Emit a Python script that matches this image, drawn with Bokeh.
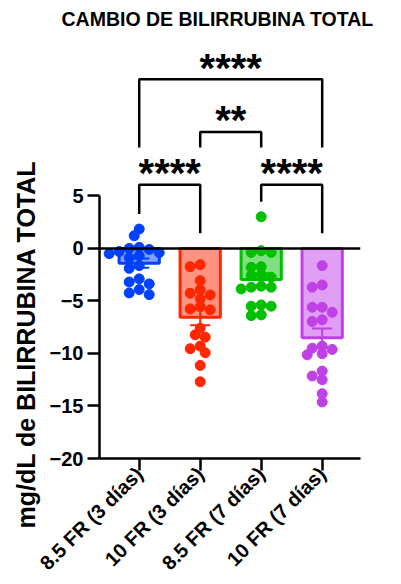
import math
import numpy as np
from bokeh.plotting import figure
from bokeh.models import Range1d, FixedTicker, Span, Title
from bokeh.core.properties import value
from bokeh.embed import file_html
from bokeh.resources import INLINE

# ---------------- data ----------------
groups = ["8.5 FR (3 días)", "10 FR (3 días)", "8.5 FR (7 días)", "10 FR (7 días)"]
line_colors = ["#0040FF", "#FF2600", "#00C000", "#C040E8"]
fill_colors = ["#809FFF", "#FF9380", "#80E080", "#E09FF4"]

vals_85_3d = [1.84, 1.2, 0.1, 0.0, -0.1, -0.3, -0.5, -0.7, -0.9, -0.4,
              -1.9, -1.64, -2.9, -3.38, -3.2, -3.92, -4.24, -4.4]
vals_10_3d = [-1.55, -1.74, -3.07, -3.95, -4.43, -4.27, -4.8, -5.54, -5.85,
              -5.76, -7.6, -8.45, -8.23, -9.3, -9.55, -9.93, -11.14, -12.7]
vals_85_7d = [3.01, -0.38, -0.38, -0.22, -1.74, -1.8, -2.5, -2.56, -2.75,
              -3.86, -3.7, -3.7, -3.6, -5.38, -5.5, -5.5, -6.33, -6.4]
vals_10_7d = [-1.64, -3.48, -3.7, -5.6, -5.6, -6.08, -6.96, -6.8, -9.62,
              -9.3, -10.13, -10.03, -9.5, -12.15, -11.68, -12.5, -13.83, -14.62]
series = [vals_85_3d, vals_10_3d, vals_85_7d, vals_10_7d]

comparisons = [(0, 1, "****"), (2, 3, "****"), (1, 2, "**"), (0, 3, "****")]
y_ticks = [-20, -15, -10, -5, 0, 5]
title_text = "CAMBIO DE BILIRRUBINA TOTAL"
y_label = "mg/dL de BILIRRUBINA TOTAL"

# ---------------- layout ----------------
W, H = 401, 584
MB_L, MB_R, MB_T, MB_B = 99, 41, 0, 126
FRAME_TOP = 33.0          # expected height of the title panel
PX_Y = 10.53              # pixels per mg/dL
x0, x1 = -0.651, 3.628
y0 = -20.0
y1 = y0 + (H - MB_B - FRAME_TOP) / PX_Y
px_x = (W - MB_L - MB_R) / (x1 - x0)
px_y = PX_Y

FONT = "Liberation Sans"

p = figure(width=W, height=H, output_backend="svg", toolbar_location=None,
           x_range=Range1d(x0, x1), y_range=Range1d(y0, y1),
           min_border_left=MB_L, min_border_right=MB_R,
           min_border_top=MB_T, min_border_bottom=MB_B)
p.outline_line_color = None
p.grid.visible = False
p.background_fill_color = "white"
p.border_fill_color = "white"

p.title = Title(text=title_text, align="left", offset=61 - MB_L,
                text_font=FONT, text_font_style="bold", text_font_size="19.5px",
                text_color="black")
p.add_layout(Title(text=y_label, align="left", offset=458 - 528, standoff=10,
                   vertical_align="top",
                   text_font=FONT, text_font_style="bold", text_font_size="25px",
                   text_color="black"), "left")

# axes
p.xaxis.ticker = FixedTicker(ticks=list(range(len(groups))))
p.xaxis.major_label_overrides = {i: g for i, g in enumerate(groups)}
p.xaxis.major_label_orientation = math.pi / 4
p.yaxis.ticker = FixedTicker(ticks=y_ticks)
p.yaxis.bounds = (min(y_ticks), max(y_ticks))
for ax in (p.xaxis, p.yaxis):
    ax.axis_line_width = 2.5
    ax.axis_line_color = "black"
    ax.major_tick_line_width = 2.5
    ax.major_tick_line_color = "black"
    ax.major_tick_out = 12
    ax.major_tick_in = 0
    ax.minor_tick_line_color = None
    ax.major_label_text_font = FONT
    ax.major_label_text_font_style = "bold"
    ax.major_label_text_font_size = "20px"
    ax.major_label_text_color = "black"
p.yaxis.major_label_standoff = 4
p.xaxis.major_label_standoff = 0


def swarm(vals, d=7.5, step=5.0):
    offs = [0.0] * len(vals)
    placed = []
    order = np.argsort(-np.asarray(vals), kind="stable")
    cands = [0.0]
    for k in range(1, 12):
        cands += [-k * step, k * step]
    for i in order:
        yv = vals[i] * px_y
        for c in cands:
            if all((c - a) ** 2 + (yv - b) ** 2 >= d * d for a, b in placed):
                offs[i] = c
                placed.append((c, yv))
                break
    return [o / px_x for o in offs]


bar_w = 0.66
cap_w = 0.33
for i, vals in enumerate(series):
    arr = np.asarray(vals)
    mean = arr.mean()
    sem = arr.std(ddof=1) / math.sqrt(len(arr))
    p.vbar(x=[i], top=[0], bottom=[mean], width=bar_w,
           fill_color=fill_colors[i], line_color=line_colors[i], line_width=3)
    p.segment(x0=[i], y0=[mean - sem], x1=[i], y1=[mean + sem],
              line_color=line_colors[i], line_width=2)
    p.segment(x0=[i - cap_w / 2, i - cap_w / 2], y0=[mean - sem, mean + sem],
              x1=[i + cap_w / 2, i + cap_w / 2], y1=[mean - sem, mean + sem],
              line_color=line_colors[i], line_width=2)
    offs = swarm(vals)
    xs = [i + o for o in offs]
    p.scatter(x=xs, y=vals, size=10, marker="circle",
              fill_color=line_colors[i], line_color=line_colors[i])

# zero line
p.add_layout(Span(location=0, dimension="width", line_color="black", line_width=2.5))

# significance brackets
gap = 1.43
low_h, mid_h, top_h, upper_leg = 6.05, 11.08, 16.09, 9.6
star_rise = 1.12
for a, b, lab in comparisons:
    if (a, b) == (1, 2):
        h = mid_h
        ya = yb = upper_leg
    elif b - a == 1:
        h = low_h
        ya = max(0.0, max(series[a])) + gap
        yb = max(0.0, max(series[b])) + gap
    else:
        h = top_h
        ya = yb = upper_leg
    p.line(x=[a, a, b, b], y=[ya, h, h, yb], line_color="black", line_width=2.5)
    p.text(x=[(a + b) / 2], y=[h + star_rise], text=[lab],
           text_font=value(FONT), text_font_style="bold", text_font_size="40px",
           text_align="center", text_baseline="middle", text_color="black")

open("out.html", "w").write(file_html(p, INLINE))
